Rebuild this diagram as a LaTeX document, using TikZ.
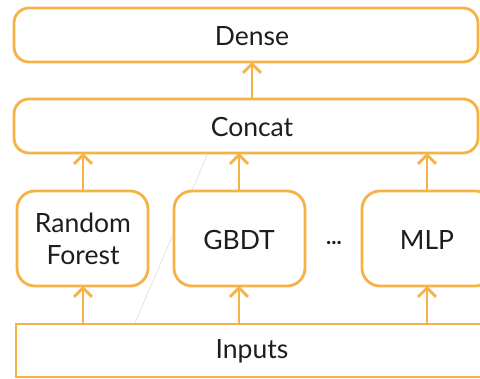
\documentclass[tikz,border=0pt]{standalone}
\usepackage{fontspec}
\setmainfont{Lato}
\usetikzlibrary{arrows.meta}
\definecolor{boxorange}{HTML}{F5B347}
\definecolor{txt}{HTML}{1C1C22}
\tikzset{
  labeltext/.style={text=txt, font=\fontsize{26.5}{32}\selectfont},
  layerbox/.style={draw=boxorange, line width=2.8pt, rounded corners=15pt, fill=white},
  modelbox/.style={draw=boxorange, line width=2.8pt, rounded corners=18pt, fill=white},
  flow/.style={draw=boxorange, line width=2.8pt, -{Straight Barb[length=9pt,width=18pt,line width=2.8pt]}}
}
\begin{document}
\begin{tikzpicture}[x=1pt,y=-1pt]
\useasboundingbox (0,0) rectangle (480,379);
\fill[white] (0,0) rectangle (480,379);
% faint stray guide line
\draw[black!12, line width=0.7pt] (135,323) -- (208,153);
% layers
\draw[layerbox] (14,8) rectangle (478,62);
\node[labeltext] (dense) at (252,36) {Dense};
\coordinate (denseb) at (252,62);
\draw[layerbox] (14,99) rectangle (478,153);
\node[labeltext] (concat) at (252,127) {Concat};
% models
\draw[modelbox] (17,191) rectangle (148,286);
\node[labeltext, align=center] (rf) at (83,239) {Random\\Forest};
\draw[modelbox] (174,191) rectangle (305,286);
\node[labeltext] (gbdt) at (239,240) {GBDT};
\node[text=txt, font=\fontsize{22}{26}\selectfont\bfseries, anchor=base] (dots) at (334,245) {...};
\draw[modelbox] (362,191) rectangle (493,286);
\node[labeltext] (mlp) at (427,240) {MLP};
% inputs
\draw[draw=boxorange, line width=2.8pt, fill=white] (16,324) rectangle (500,377);
\node[labeltext] (inputs) at (252,351) {Inputs};
% connection points
\coordinate (concatt) at (252,99);
\coordinate (c1) at (83,153); \coordinate (c2) at (239,153); \coordinate (c3) at (427,153);
\coordinate (m1t) at (83,191); \coordinate (m2t) at (239,191); \coordinate (m3t) at (427,191);
\coordinate (m1b) at (83,286); \coordinate (m2b) at (239,286); \coordinate (m3b) at (427,286);
\coordinate (i1) at (83,324); \coordinate (i2) at (239,324); \coordinate (i3) at (427,324);
% arrows
\draw[flow] (concatt) -- (denseb);
\draw[flow] (m1t) -- (c1);
\draw[flow] (m2t) -- (c2);
\draw[flow] (m3t) -- (c3);
\draw[flow] (i1) -- (m1b);
\draw[flow] (i2) -- (m2b);
\draw[flow] (i3) -- (m3b);
\end{tikzpicture}
\end{document}
